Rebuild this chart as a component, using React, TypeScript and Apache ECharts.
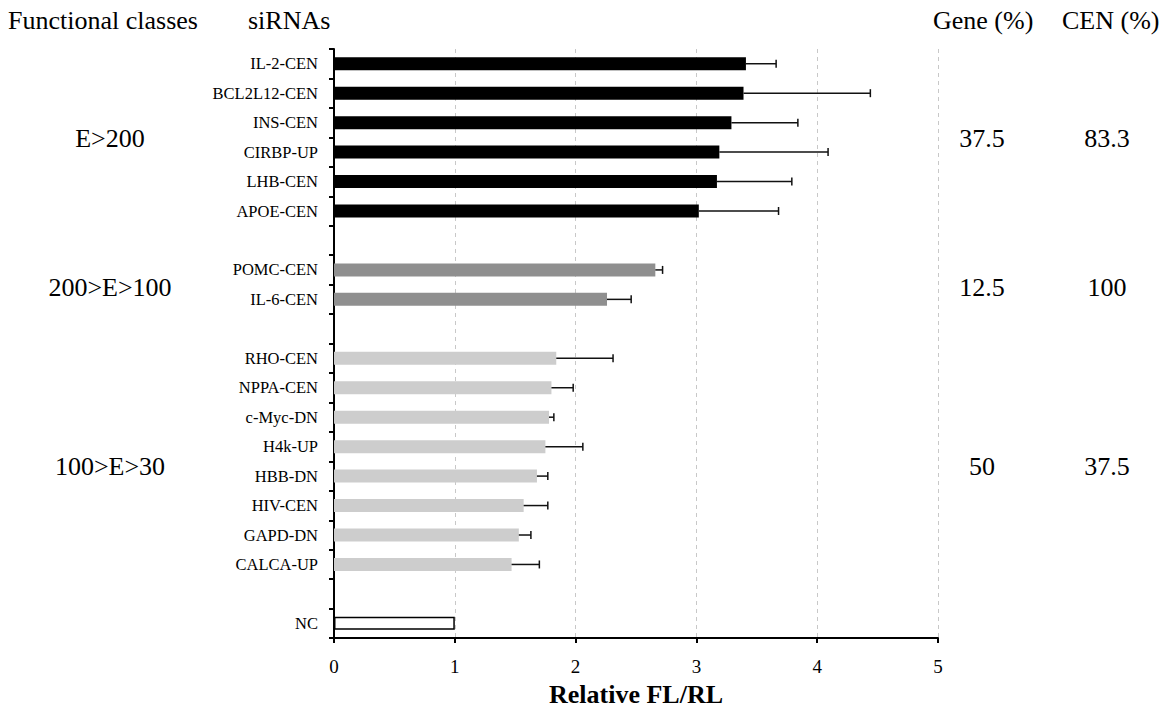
import React, { useEffect, useRef } from "react";
import * as echarts from "echarts";

// ---- data ----
const e200Names = ["IL-2-CEN", "BCL2L12-CEN", "INS-CEN", "CIRBP-UP", "LHB-CEN", "APOE-CEN"];
const e200Values = [3.41, 3.39, 3.29, 3.19, 3.17, 3.02];
const e200Upper = [3.66, 4.44, 3.84, 4.09, 3.79, 3.68];

const e100Names = ["POMC-CEN", "IL-6-CEN"];
const e100Values = [2.66, 2.26];
const e100Upper = [2.72, 2.46];

const e30Names = ["RHO-CEN", "NPPA-CEN", "c-Myc-DN", "H4k-UP", "HBB-DN", "HIV-CEN", "GAPD-DN", "CALCA-UP"];
const e30Values = [1.84, 1.8, 1.78, 1.75, 1.68, 1.57, 1.53, 1.47];
const e30Upper = [2.31, 1.98, 1.82, 2.06, 1.77, 1.77, 1.63, 1.7];

const ncNames = ["NC"];
const ncValues = [1.0];

const groupLabels = ["E>200", "200>E>100", "100>E>30"];
const genePct = ["37.5", "12.5", "50"];
const cenPct = ["83.3", "100", "37.5"];

const headers = ["Functional classes", "siRNAs", "Gene (%)", "CEN (%)"];
const xTicks = [0, 1, 2, 3, 4, 5];
const xName = "Relative FL/RL";

// ---- styles ----
const FONT = "'Liberation Serif', 'Times New Roman', serif";
const W = 1164;
const H = 712;
const GRID_LEFT = 334;
const GRID_RIGHT_X = 938;
const GRID_TOP = 49;
const GRID_BOTTOM_Y = 645;

const groups = [
  { names: e200Names, values: e200Values, upper: e200Upper, color: "#000000" },
  { names: e100Names, values: e100Values, upper: e100Upper, color: "#8f8f8f" },
  { names: e30Names, values: e30Values, upper: e30Upper, color: "#cdcdcd" },
];

export default function App() {
  const ref = useRef<HTMLDivElement>(null);

  useEffect(() => {
    if (!ref.current) return;
    const chart = echarts.init(ref.current, undefined, { renderer: "svg" });

    const categories: string[] = [];
    const barData: any[] = [];
    const errData: number[][] = [];
    const groupMid: number[] = [];

    groups.forEach((g, gi) => {
      const start = categories.length;
      g.names.forEach((n, i) => {
        const idx = categories.length;
        categories.push(n);
        barData.push({ value: g.values[i], itemStyle: { color: g.color } });
        errData.push([idx, g.values[i], g.upper[i]]);
      });
      groupMid.push((start + categories.length - 1) / 2);
      categories.push("gap" + gi);
      barData.push("-");
    });
    ncNames.forEach((n, i) => {
      categories.push(n);
      barData.push({
        value: ncValues[i],
        itemStyle: { color: "#ffffff", borderColor: "#000000", borderWidth: 1.5 },
      });
    });

    const slot = (GRID_BOTTOM_Y - GRID_TOP) / categories.length;
    const yOf = (idx: number) => GRID_TOP + (idx + 0.5) * slot;

    const textStyle = (fontSize: number) => ({
      fill: "#000",
      font: `${fontSize}px ${FONT}`,
      textVerticalAlign: "middle",
    });

    const graphic: any[] = [
      { type: "text", x: 8, y: 20, style: { ...textStyle(26), text: headers[0], textAlign: "left" } },
      { type: "text", x: 248, y: 20, style: { ...textStyle(26), text: headers[1], textAlign: "left" } },
      { type: "text", x: 933, y: 20, style: { ...textStyle(26), text: headers[2], textAlign: "left" } },
      { type: "text", x: 1062, y: 20, style: { ...textStyle(26), text: headers[3], textAlign: "left" } },
    ];
    groupMid.forEach((m, i) => {
      const y = yOf(m);
      graphic.push({ type: "text", x: 110, y, style: { ...textStyle(26), text: groupLabels[i], textAlign: "center" } });
      graphic.push({ type: "text", x: 982, y, style: { ...textStyle(26), text: genePct[i], textAlign: "center" } });
      graphic.push({ type: "text", x: 1107, y, style: { ...textStyle(26), text: cenPct[i], textAlign: "center" } });
    });

    chart.setOption({
      animation: false,
      backgroundColor: "#ffffff",
      textStyle: { fontFamily: FONT },
      grid: {
        left: GRID_LEFT,
        right: W - GRID_RIGHT_X,
        top: GRID_TOP,
        bottom: H - GRID_BOTTOM_Y,
        containLabel: false,
      },
      xAxis: {
        type: "value",
        min: xTicks[0],
        max: xTicks[xTicks.length - 1],
        interval: 1,
        name: xName,
        nameLocation: "middle",
        nameGap: 40,
        nameTextStyle: { fontFamily: FONT, fontSize: 26, fontWeight: "bold", color: "#000" },
        axisLine: { show: true, lineStyle: { color: "#000", width: 2 } },
        axisTick: { show: true, length: 5, lineStyle: { color: "#000", width: 2 } },
        axisLabel: { fontFamily: FONT, fontSize: 19, color: "#000", margin: 19 },
        splitLine: { show: true, lineStyle: { color: "#c8c8c8", type: [4, 4], width: 1 } },
      },
      yAxis: {
        type: "category",
        inverse: true,
        data: categories,
        axisLine: { show: true, lineStyle: { color: "#000", width: 2 } },
        axisTick: { show: true, interval: 0, length: 5, lineStyle: { color: "#000", width: 2 } },
        axisLabel: {
          interval: 0,
          margin: 16,
          fontFamily: FONT,
          fontSize: 16.5,
          color: "#000",
          formatter: (v: string) => (v.startsWith("gap") ? "" : v),
        },
        splitLine: { show: false },
      },
      series: [
        {
          type: "bar",
          data: barData,
          barWidth: 13,
          silent: true,
        },
        {
          type: "custom",
          data: errData,
          encode: { x: [1, 2], y: 0 },
          silent: true,
          z: 3,
          renderItem: (params: any, api: any) => {
            const yi = api.value(0);
            const lo = api.coord([api.value(1), yi]);
            const hi = api.coord([api.value(2), yi]);
            const st = { stroke: "#111", lineWidth: 1.5 };
            return {
              type: "group",
              children: [
                { type: "line", shape: { x1: lo[0], y1: lo[1], x2: hi[0], y2: hi[1] }, style: st },
                { type: "line", shape: { x1: hi[0], y1: hi[1] - 4, x2: hi[0], y2: hi[1] + 4 }, style: st },
              ],
            };
          },
        },
      ],
      graphic,
    });

    return () => chart.dispose();
  }, []);

  return (
    <div
      ref={ref}
      style={{ position: "fixed", left: 0, top: 0, width: W, height: H, background: "#fff" }}
    />
  );
}
